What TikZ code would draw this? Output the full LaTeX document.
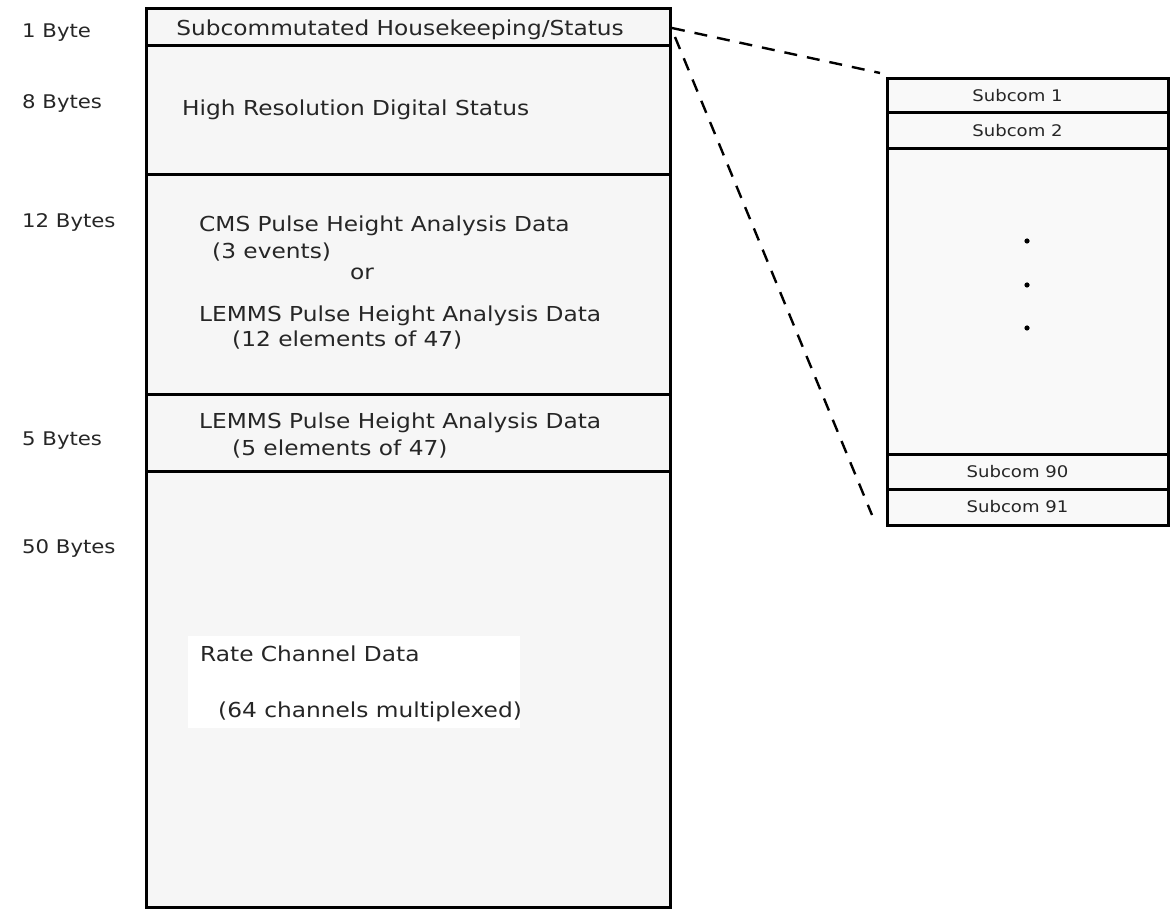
\documentclass[tikz,border=0pt]{standalone}
\usepackage{fontspec}
\newfontfamily\labf[FakeStretch=1.13]{DejaVu Sans}
\begin{document}
\begin{tikzpicture}[x=1pt,y=-1pt,
  rowbox/.style={draw=black, line width=3pt, fill=gray!7, minimum width=524pt, inner sep=0pt, outer sep=0pt},
  subbox/.style={draw=black, line width=3pt, fill=gray!5, minimum width=281pt, inner sep=0pt, outer sep=0pt},
  txt/.style={font=\labf\fontsize{20.6}{23}\selectfont, text=black!85, inner sep=0pt, anchor=west},
  btxt/.style={font=\labf\fontsize{18.8}{22}\selectfont, text=black!85, inner sep=0pt, anchor=west},
  ctxt/.style={font=\labf\fontsize{20.6}{23}\selectfont, text=black!85, inner sep=0pt},
  stxt/.style={font=\labf\fontsize{16}{19}\selectfont, text=black!85, inner sep=0pt},
  zoomline/.style={draw=black, line width=2.4pt, dash pattern=on 13pt off 10pt}]
\useasboundingbox (0,0) rectangle (1171,909);
\fill[white] (0,0) rectangle (1171,909);
% left frame rows
\node[rowbox, minimum height=37pt] (r1) at (408,27.5) {};
\node[rowbox, minimum height=129pt] (r2) at (408,110.5) {};
\node[rowbox, minimum height=220pt] (r3) at (408,285) {};
\node[rowbox, minimum height=76pt] (r4) at (408,433) {};
\node[rowbox, minimum height=436pt] (r5) at (408,689) {};
\fill[white] (188,636) rectangle (520,728);
% byte labels
\node[btxt] (l1) at (22,33) {1 Byte};
\node[btxt] (l2) at (22,103) {8 Bytes};
\node[btxt] (l3) at (22,222) {12 Bytes};
\node[btxt] (l4) at (22,441) {5 Bytes};
\node[btxt] (l5) at (22,548) {50 Bytes};
% row texts
\node[ctxt] (t1) at (400,30) {Subcommutated Housekeeping/Status};
\node[txt] (t2) at (182,110) {High Resolution Digital Status};
\node[txt] (t3a) at (199,226) {CMS Pulse Height Analysis Data};
\node[txt] (t3b) at (212,252) {(3 events)};
\node[ctxt] (t3c) at (362,274) {or};
\node[txt] (t3d) at (199,316) {LEMMS Pulse Height Analysis Data};
\node[txt] (t3e) at (232,340) {(12 elements of 47)};
\node[txt] (t4a) at (199,423) {LEMMS Pulse Height Analysis Data};
\node[txt] (t4b) at (232,449) {(5 elements of 47)};
\node[txt] (t5a) at (200,654) {Rate Channel Data};
\node[txt] (t5b) at (218,712) {(64 channels multiplexed)};
% right subcom frame
\node[subbox, minimum height=34pt] (s1) at (1027.5,96) {};
\node[subbox, minimum height=36pt] (s2) at (1027.5,131) {};
\node[subbox, minimum height=306pt] (sm) at (1027.5,302) {};
\node[subbox, minimum height=34pt] (s90) at (1027.5,472) {};
\node[subbox, minimum height=36pt] (s91) at (1027.5,507) {};
\node[stxt] at ([xshift=-10pt]s1.center) {Subcom 1};
\node[stxt] at ([xshift=-10pt]s2.center) {Subcom 2};
\node[stxt] at ([xshift=-10pt]s90.center) {Subcom 90};
\node[stxt] at ([xshift=-10pt]s91.center) {Subcom 91};
\fill[black] (1027,241) circle (2.6pt) (1027,285) circle (2.6pt) (1027,328) circle (2.6pt);
% zoom dashed lines
\coordinate (za) at (672,28);
\coordinate (zb) at (880,73);
\coordinate (zc) at (675,37);
\coordinate (zd) at (872,515);
\draw[zoomline] (za) -- (zb);
\draw[zoomline] (zc) -- (zd);
\end{tikzpicture}
\end{document}
